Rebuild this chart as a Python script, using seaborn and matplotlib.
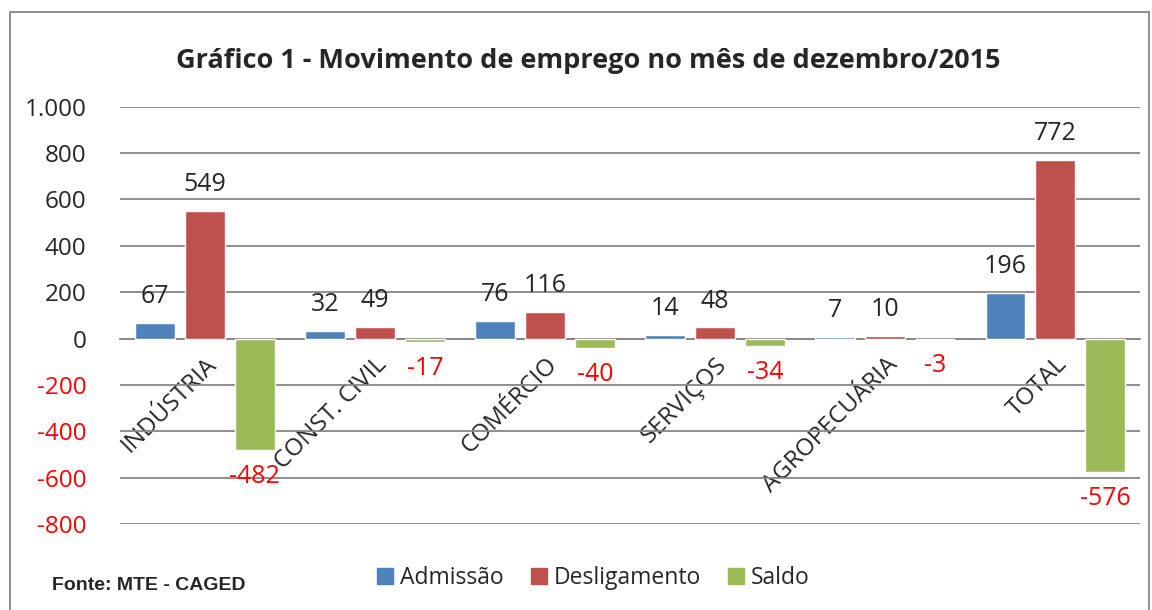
import pandas as pd
import numpy as np
import matplotlib.pyplot as plt
import matplotlib.ticker as mticker
from matplotlib.patches import Rectangle
import seaborn as sns

# Data
setores = ["INDÚSTRIA", "CONST. CIVIL", "COMÉRCIO", "SERVIÇOS", "AGROPECUÁRIA", "TOTAL"]
admissao = [67, 32, 76, 14, 7, 196]
desligamento = [549, 49, 116, 48, 10, 772]
saldo = [-482, -17, -40, -34, -3, -576]
series = ["Admissão", "Desligamento", "Saldo"]
cores = ["#4F81BD", "#C0504D", "#9BBB59"]

df = pd.DataFrame({"setor": setores, "Admissão": admissao,
                   "Desligamento": desligamento, "Saldo": saldo})
df_long = df.melt(id_vars="setor", var_name="serie", value_name="valor")

sns.set_style("white")
plt.rcParams["font.family"] = ["Open Sans", "DejaVu Sans"]

fig = plt.figure(figsize=(11.52, 6.10), dpi=100)
ax = fig.add_axes([0.104, 0.141, 0.886, 0.684])

sns.barplot(data=df_long, x="setor", y="valor", hue="serie", hue_order=series,
            palette=cores, width=0.88, gap=0.2, saturation=1, ax=ax, zorder=3)

ax.set_ylim(-800, 1000)
ax.set_xlim(-0.5, len(setores) - 0.5)
ax.set_yticks(np.arange(-800, 1001, 200))
ax.yaxis.set_major_formatter(mticker.FuncFormatter(
    lambda v, p: f"{int(v):,}".replace(",", ".")))
ax.grid(axis="y", color="#868686", linewidth=1.3, zorder=0)
ax.set_axisbelow(True)
for s in ["top", "right", "left"]:
    ax.spines[s].set_visible(False)
ax.spines["bottom"].set_position(("data", 0))
ax.spines["bottom"].set_color("#868686")
ax.spines["bottom"].set_linewidth(1.3)
ax.tick_params(axis="y", length=0, pad=24, labelsize=17.5)
ax.tick_params(axis="x", length=0, pad=10, labelsize=17.5)
for lbl in ax.get_yticklabels():
    if lbl.get_text().startswith("-") or lbl.get_text().startswith("−"):
        lbl.set_color("red")
ax.set_xticks(range(len(setores)))
ax.set_xticklabels(setores, rotation=45, ha="right", va="top", rotation_mode="anchor")
ax.set_xlabel("")
ax.set_ylabel("")

# Data labels
for cont in ax.containers:
    vals = [b.get_height() for b in cont]
    labs = [f"{int(round(v))}" for v in vals]
    texts = ax.bar_label(cont, labels=labs, padding=10, fontsize=18)
    for t, v in zip(texts, vals):
        if v < 0:
            t.set_color("red")

ax.legend_.remove()
handles = [Rectangle((0, 0), 1, 1, color=c) for c in cores]
fig.legend(handles, series, loc="center", bbox_to_anchor=(0.515, 0.053), ncol=3,
           frameon=False, fontsize=16.5, handlelength=0.7, handleheight=0.7,
           handletextpad=0.3, columnspacing=1.2)

fig.suptitle("Gráfico 1 - Movimento de emprego no mês de dezembro/2015",
             x=0.511, y=0.922, fontsize=19.5, fontweight="bold")
fig.text(0.045, 0.04, "Fonte: MTE - CAGED", fontsize=14, fontweight="bold",
         family="Liberation Sans", va="center")

# chart border
fig.patches.append(Rectangle((0.009, -0.01), 0.988, 0.99, transform=fig.transFigure,
                             fill=False, edgecolor="#868686", linewidth=1.3))

fig.savefig("out.png", dpi=100)
